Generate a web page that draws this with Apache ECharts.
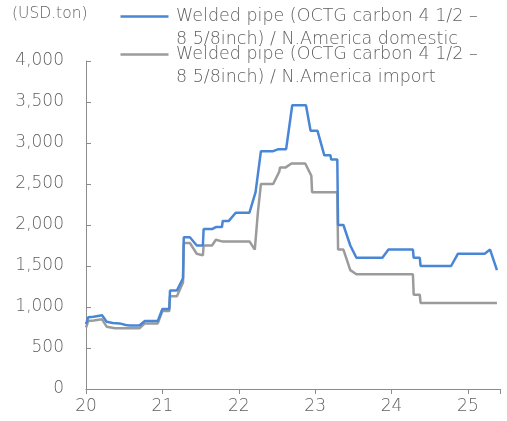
<!DOCTYPE html>
<html>
<head>
<meta charset="utf-8">
<script src="https://cdn.jsdelivr.net/npm/echarts@6/dist/echarts.min.js"></script>
<style>
  html, body { margin: 0; padding: 0; background: #fff; }
  #chart { width: 507px; height: 421px; }
</style>
</head>
<body>
<div id="chart"></div>
<script>
// Series names
const domesticName = 'Welded pipe (OCTG carbon 4 1/2 –\n8 5/8inch) / N.America domestic';
const importName = 'Welded pipe (OCTG carbon 4 1/2 –\n8 5/8inch) / N.America import';

// Dates as decimal years (20 = Jan 2020), prices in USD/ton
const domesticX = [20.00, 20.03, 20.10, 20.12, 20.21, 20.27, 20.35, 20.44, 20.52, 20.57, 20.70, 20.77, 20.94, 21.00, 21.09, 21.10, 21.19, 21.27, 21.28, 21.36, 21.45, 21.53, 21.54, 21.65, 21.70, 21.78, 21.79, 21.87, 21.96, 22.14, 22.22, 22.29, 22.45, 22.52, 22.62, 22.70, 22.88, 22.94, 23.03, 23.12, 23.20, 23.21, 23.29, 23.30, 23.37, 23.46, 23.54, 23.88, 23.96, 24.28, 24.29, 24.37, 24.38, 24.78, 24.87, 25.22, 25.29, 25.38];
const domesticY = [790, 875, 880, 900, 900, 820, 805, 800, 780, 775, 775, 830, 830, 975, 975, 1200, 1200, 1350, 1850, 1850, 1750, 1750, 1950, 1950, 1975, 1975, 2050, 2050, 2150, 2150, 2400, 2900, 2900, 2925, 2925, 3460, 3460, 3150, 3150, 2850, 2850, 2800, 2800, 2000, 2000, 1750, 1600, 1600, 1700, 1700, 1600, 1600, 1500, 1500, 1650, 1650, 1700, 1450];

const importX = [20.00, 20.03, 20.10, 20.12, 20.21, 20.27, 20.38, 20.70, 20.77, 20.94, 21.00, 21.09, 21.10, 21.19, 21.27, 21.28, 21.36, 21.45, 21.53, 21.54, 21.65, 21.70, 21.78, 22.14, 22.21, 22.25, 22.29, 22.45, 22.53, 22.54, 22.61, 22.69, 22.87, 22.95, 22.96, 23.29, 23.30, 23.37, 23.46, 23.54, 24.28, 24.29, 24.37, 24.38, 25.38];
const importY = [750, 830, 835, 850, 850, 760, 740, 740, 800, 800, 950, 950, 1130, 1130, 1300, 1780, 1780, 1650, 1630, 1750, 1750, 1820, 1800, 1800, 1700, 2150, 2500, 2500, 2650, 2700, 2700, 2750, 2750, 2600, 2400, 2400, 1700, 1700, 1450, 1400, 1400, 1150, 1150, 1050, 1050];

// Axis settings
const yTicks = [0, 500, 1000, 1500, 2000, 2500, 3000, 3500, 4000];
const xYears = [20, 21, 22, 23, 24, 25];
const unitLabel = '(USD.ton)';

const BLUE = '#4a86d6';
const GRAY = '#9b9b9b';
const TEXT = '#5f5f5f';
const FONT = '"DejaVu Sans", sans-serif';

const zip = (xs, ys) => xs.map((x, i) => [x, ys[i]]);

const chart = echarts.init(document.getElementById('chart'), null, { renderer: 'canvas' });

// Legend entry: short line swatch followed by a two-line caption
function legendItem(top, color, text) {
  return [
    { type: 'line', left: 118, top: top + 9, shape: { x1: 0, y1: 0, x2: 48, y2: 0 },
      style: { stroke: color, lineWidth: 2.5 } },
    { type: 'text', left: 176, top: top,
      style: { text: text, fill: TEXT, font: '200 17.5px ' + FONT, lineHeight: 23 } }
  ];
}

chart.setOption({
  animation: false,
  backgroundColor: '#fff',
  grid: { left: 86, right: 7, top: 61, bottom: 32, containLabel: false },
  graphic: [
    { type: 'text', left: 12, top: 6, style: { text: unitLabel, fill: TEXT, font: '200 15.5px ' + FONT } },
    ...legendItem(5, BLUE, domesticName),
    ...legendItem(43, GRAY, importName)
  ],
  xAxis: {
    type: 'value',
    min: xYears[0],
    max: 25.42,
    interval: 1,
    axisLine: { lineStyle: { color: '#8c8c8c', width: 1 } },
    axisTick: { show: true, inside: false, length: 5, lineStyle: { color: '#8c8c8c' } },
    axisLabel: { color: TEXT, fontSize: 17, fontWeight: 200, fontFamily: FONT, margin: 9,
      formatter: v => (xYears.includes(v) ? String(v) : '') },
    splitLine: { show: false }
  },
  yAxis: {
    type: 'value',
    min: yTicks[0],
    max: yTicks[yTicks.length - 1],
    interval: 500,
    axisLine: { show: true, lineStyle: { color: '#8c8c8c', width: 1 } },
    axisTick: { show: true, inside: true, length: 5, lineStyle: { color: '#8c8c8c' } },
    axisLabel: { color: TEXT, fontSize: 17, fontWeight: 200, fontFamily: FONT, margin: 22,
      formatter: v => v.toLocaleString('en-US') },
    splitLine: { show: false }
  },
  series: [
    { name: importName, type: 'line', data: zip(importX, importY), symbol: 'none',
      lineStyle: { color: GRAY, width: 2.5 }, z: 2 },
    { name: domesticName, type: 'line', data: zip(domesticX, domesticY), symbol: 'none',
      lineStyle: { color: BLUE, width: 2.5 }, z: 3 }
  ]
});
</script>
</body>
</html>
